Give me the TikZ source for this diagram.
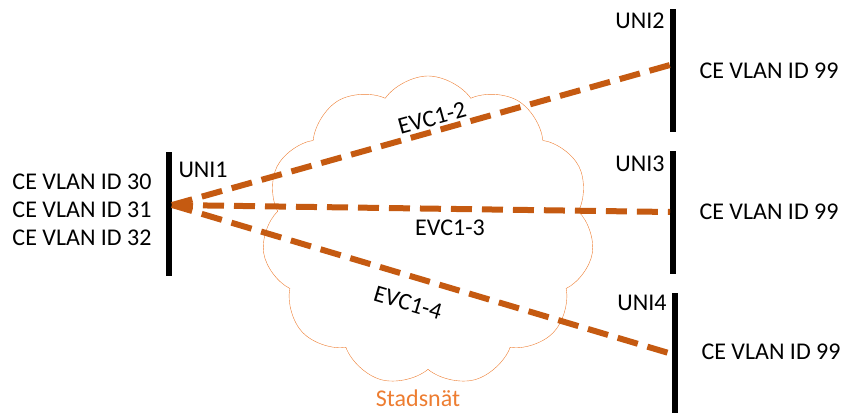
\documentclass[tikz,border=0pt]{standalone}
\usepackage{fontspec}
\setmainfont{Carlito}
\usetikzlibrary{positioning, shapes.symbols}
\definecolor{evcorange}{HTML}{C55A11}
\definecolor{cloudorange}{HTML}{ED7D31}

\begin{document}
\begin{tikzpicture}[x=1pt,y=-1pt,font=\fontsize{24}{28}\selectfont]
  \tikzstyle{uni}=[fill=black,inner sep=0pt,minimum width=6pt]
  \tikzstyle{evc}=[evcorange,line width=6pt,dash pattern=on 21pt off 10pt]

  \useasboundingbox (0,0) rectangle (845,412);

  \node[cloud, cloud puffs=11, cloud puff arc=110, aspect=1.1, draw=cloudorange,
        minimum width=332pt, minimum height=310pt] (net) at (428,231) {};

  \node[uni, minimum height=124pt] (uni_1) at (169,214)   {};
  \node[uni, minimum height=123pt] (uni_2) at (673,70.5)  {};
  \node[uni, minimum height=123pt] (uni_3) at (673,212.5) {};
  \node[uni, minimum height=120pt] (uni_4) at (675,353)   {};

  \coordinate (p_1) at (172,205);
  \coordinate (p_2) at (670,65);
  \coordinate (p_3) at (670,212);
  \coordinate (p_4) at (672,354);

  \node[anchor=west] (l_1) at (175,170) {UNI1};
  \node[anchor=east] (l_2) at (668,21)  {UNI2};
  \node[anchor=east] (l_3) at (668,164) {UNI3};
  \node[anchor=east] (l_4) at (670,303) {UNI4};

  \node[align=center] (vlan_1) at (82,210) {CE VLAN ID 30\\CE VLAN ID 31\\CE VLAN ID 32};
  \node[anchor=west]  (vlan_2) at (696,71)  {CE VLAN ID 99};
  \node[anchor=west]  (vlan_3) at (696,212) {CE VLAN ID 99};
  \node[anchor=west]  (vlan_4) at (698,352) {CE VLAN ID 99};

  \path[evc]
  (p_1) edge (p_2)
  (p_1) edge (p_3)
  (p_1) edge (p_4)
  ;

  \node[rotate=15.6]  (evc_2) at (432,118) {EVC1-2};
  \node               (evc_3) at (450,228) {EVC1-3};
  \node[rotate=-16.5] (evc_4) at (408,303) {EVC1-4};
  \node[cloudorange, inner sep=1pt] (city) at (418,398) {Stadsnät};
\end{tikzpicture}
\end{document}
